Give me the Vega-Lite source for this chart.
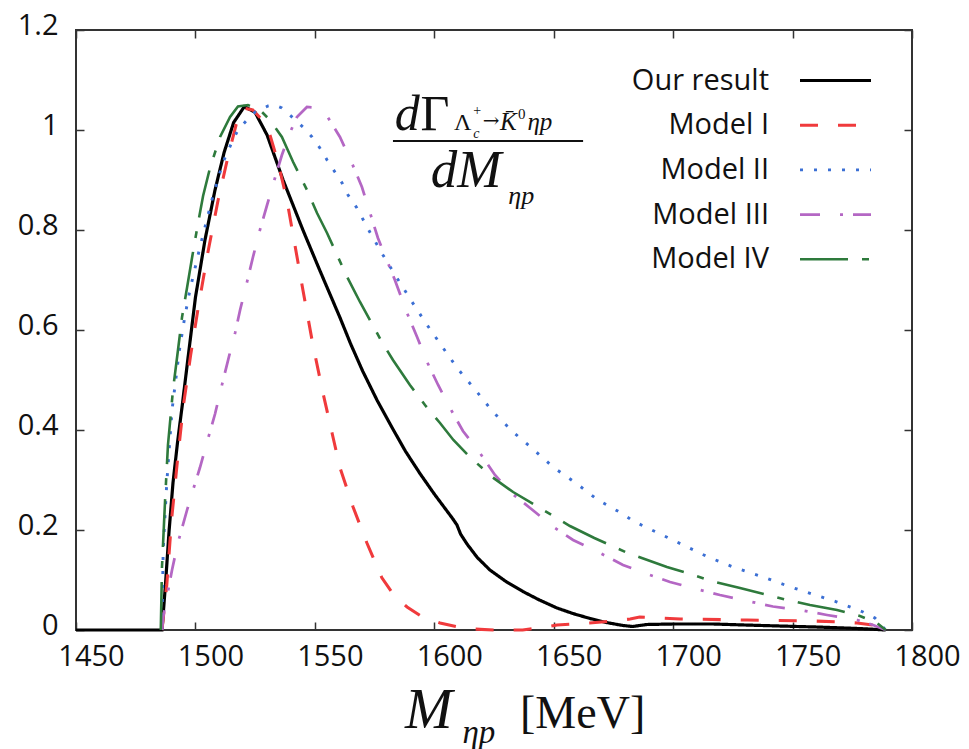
{
  "$schema": "https://vega.github.io/schema/vega-lite/v6.json",
  "width": 836,
  "height": 600,
  "autosize": {"type": "none"},
  "padding": {"left": 76, "top": 30, "right": 57, "bottom": 119},
  "background": "white",
  "config": {
    "view": {"stroke": "#333333", "strokeWidth": 2},
    "axis": {
      "grid": false,
      "domain": false,
      "title": null,
      "tickColor": "#333333",
      "tickWidth": 1.5,
      "tickSize": -8,
      "labelFont": "Open Sans",
      "labelFontSize": 29,
      "labelColor": "#111111"
    }
  },
  "datasets": {
    "curves": [
      {"series": "Our result", "m": 1450, "rate": 0},
      {"series": "Our result", "m": 1486, "rate": 0},
      {"series": "Our result", "m": 1487.5, "rate": 0.094},
      {"series": "Our result", "m": 1489, "rate": 0.2},
      {"series": "Our result", "m": 1490.6, "rate": 0.294},
      {"series": "Our result", "m": 1492.5, "rate": 0.375},
      {"series": "Our result", "m": 1494.5, "rate": 0.45},
      {"series": "Our result", "m": 1497.3, "rate": 0.56},
      {"series": "Our result", "m": 1500, "rate": 0.665},
      {"series": "Our result", "m": 1504, "rate": 0.78},
      {"series": "Our result", "m": 1508.2, "rate": 0.88},
      {"series": "Our result", "m": 1512, "rate": 0.955},
      {"series": "Our result", "m": 1516, "rate": 1.015},
      {"series": "Our result", "m": 1520.5, "rate": 1.047},
      {"series": "Our result", "m": 1525, "rate": 1.035},
      {"series": "Our result", "m": 1530, "rate": 0.99},
      {"series": "Our result", "m": 1536.7, "rate": 0.9},
      {"series": "Our result", "m": 1545, "rate": 0.8},
      {"series": "Our result", "m": 1552, "rate": 0.72},
      {"series": "Our result", "m": 1560.5, "rate": 0.625},
      {"series": "Our result", "m": 1565, "rate": 0.572},
      {"series": "Our result", "m": 1570, "rate": 0.518},
      {"series": "Our result", "m": 1576, "rate": 0.46},
      {"series": "Our result", "m": 1582.3, "rate": 0.405},
      {"series": "Our result", "m": 1588, "rate": 0.357},
      {"series": "Our result", "m": 1594, "rate": 0.313},
      {"series": "Our result", "m": 1600, "rate": 0.272},
      {"series": "Our result", "m": 1605, "rate": 0.24},
      {"series": "Our result", "m": 1607.8, "rate": 0.222},
      {"series": "Our result", "m": 1609.5, "rate": 0.21},
      {"series": "Our result", "m": 1611, "rate": 0.192},
      {"series": "Our result", "m": 1613.7, "rate": 0.172},
      {"series": "Our result", "m": 1618, "rate": 0.145},
      {"series": "Our result", "m": 1623.3, "rate": 0.12},
      {"series": "Our result", "m": 1630, "rate": 0.097},
      {"series": "Our result", "m": 1637.1, "rate": 0.077},
      {"series": "Our result", "m": 1644, "rate": 0.06},
      {"series": "Our result", "m": 1651.4, "rate": 0.044},
      {"series": "Our result", "m": 1658, "rate": 0.033},
      {"series": "Our result", "m": 1665.2, "rate": 0.023},
      {"series": "Our result", "m": 1672, "rate": 0.015},
      {"series": "Our result", "m": 1679, "rate": 0.009},
      {"series": "Our result", "m": 1683, "rate": 0.007},
      {"series": "Our result", "m": 1689, "rate": 0.011},
      {"series": "Our result", "m": 1700, "rate": 0.012},
      {"series": "Our result", "m": 1716.6, "rate": 0.012},
      {"series": "Our result", "m": 1730, "rate": 0.01},
      {"series": "Our result", "m": 1744.5, "rate": 0.008},
      {"series": "Our result", "m": 1760, "rate": 0.006},
      {"series": "Our result", "m": 1772, "rate": 0.004},
      {"series": "Our result", "m": 1782, "rate": 0.002},
      {"series": "Our result", "m": 1789, "rate": 0},

      {"series": "Model I", "m": 1486, "rate": 0},
      {"series": "Model I", "m": 1488, "rate": 0.09},
      {"series": "Model I", "m": 1490, "rate": 0.22},
      {"series": "Model I", "m": 1492.5, "rate": 0.34},
      {"series": "Model I", "m": 1495, "rate": 0.45},
      {"series": "Model I", "m": 1498, "rate": 0.55},
      {"series": "Model I", "m": 1501, "rate": 0.64},
      {"series": "Model I", "m": 1505, "rate": 0.75},
      {"series": "Model I", "m": 1509.5, "rate": 0.86},
      {"series": "Model I", "m": 1513.6, "rate": 0.946},
      {"series": "Model I", "m": 1517, "rate": 1.01},
      {"series": "Model I", "m": 1520, "rate": 1.044},
      {"series": "Model I", "m": 1524, "rate": 1.04},
      {"series": "Model I", "m": 1528, "rate": 1.02},
      {"series": "Model I", "m": 1531.2, "rate": 0.99},
      {"series": "Model I", "m": 1534.6, "rate": 0.935},
      {"series": "Model I", "m": 1538.3, "rate": 0.86},
      {"series": "Model I", "m": 1540.9, "rate": 0.79},
      {"series": "Model I", "m": 1545, "rate": 0.68},
      {"series": "Model I", "m": 1549.2, "rate": 0.57},
      {"series": "Model I", "m": 1553.4, "rate": 0.474},
      {"series": "Model I", "m": 1557.2, "rate": 0.394},
      {"series": "Model I", "m": 1560.5, "rate": 0.325},
      {"series": "Model I", "m": 1566, "rate": 0.246},
      {"series": "Model I", "m": 1571.8, "rate": 0.174},
      {"series": "Model I", "m": 1578, "rate": 0.105},
      {"series": "Model I", "m": 1583, "rate": 0.07},
      {"series": "Model I", "m": 1588.6, "rate": 0.046},
      {"series": "Model I", "m": 1595, "rate": 0.026},
      {"series": "Model I", "m": 1602.4, "rate": 0.014},
      {"series": "Model I", "m": 1610, "rate": 0.006},
      {"series": "Model I", "m": 1616, "rate": 0.002},
      {"series": "Model I", "m": 1625, "rate": 0},
      {"series": "Model I", "m": 1637, "rate": 0},
      {"series": "Model I", "m": 1645, "rate": 0.005},
      {"series": "Model I", "m": 1651.4, "rate": 0.01},
      {"series": "Model I", "m": 1665, "rate": 0.014},
      {"series": "Model I", "m": 1675, "rate": 0.018},
      {"series": "Model I", "m": 1682, "rate": 0.022},
      {"series": "Model I", "m": 1686, "rate": 0.026},
      {"series": "Model I", "m": 1695, "rate": 0.024},
      {"series": "Model I", "m": 1703, "rate": 0.022},
      {"series": "Model I", "m": 1731, "rate": 0.02},
      {"series": "Model I", "m": 1758.5, "rate": 0.018},
      {"series": "Model I", "m": 1770, "rate": 0.016},
      {"series": "Model I", "m": 1777, "rate": 0.014},
      {"series": "Model I", "m": 1783.7, "rate": 0.01},
      {"series": "Model I", "m": 1789, "rate": 0},

      {"series": "Model II", "m": 1486, "rate": 0},
      {"series": "Model II", "m": 1486.5, "rate": 0.16},
      {"series": "Model II", "m": 1488, "rate": 0.294},
      {"series": "Model II", "m": 1490.2, "rate": 0.44},
      {"series": "Model II", "m": 1493.3, "rate": 0.56},
      {"series": "Model II", "m": 1495.5, "rate": 0.625},
      {"series": "Model II", "m": 1497.7, "rate": 0.68},
      {"series": "Model II", "m": 1501.9, "rate": 0.766},
      {"series": "Model II", "m": 1504, "rate": 0.806},
      {"series": "Model II", "m": 1506.9, "rate": 0.86},
      {"series": "Model II", "m": 1511.5, "rate": 0.935},
      {"series": "Model II", "m": 1515.3, "rate": 0.976},
      {"series": "Model II", "m": 1517.8, "rate": 1.0},
      {"series": "Model II", "m": 1521.6, "rate": 1.02},
      {"series": "Model II", "m": 1525, "rate": 1.036},
      {"series": "Model II", "m": 1530.4, "rate": 1.048},
      {"series": "Model II", "m": 1533, "rate": 1.05},
      {"series": "Model II", "m": 1536.2, "rate": 1.044},
      {"series": "Model II", "m": 1540.9, "rate": 1.024},
      {"series": "Model II", "m": 1545, "rate": 1.006},
      {"series": "Model II", "m": 1548.8, "rate": 0.986},
      {"series": "Model II", "m": 1552.1, "rate": 0.964},
      {"series": "Model II", "m": 1555.1, "rate": 0.94},
      {"series": "Model II", "m": 1558.4, "rate": 0.916},
      {"series": "Model II", "m": 1561.4, "rate": 0.894},
      {"series": "Model II", "m": 1563.9, "rate": 0.87},
      {"series": "Model II", "m": 1567.6, "rate": 0.844},
      {"series": "Model II", "m": 1573, "rate": 0.796},
      {"series": "Model II", "m": 1578.5, "rate": 0.75},
      {"series": "Model II", "m": 1584.4, "rate": 0.704},
      {"series": "Model II", "m": 1590.7, "rate": 0.656},
      {"series": "Model II", "m": 1597, "rate": 0.61},
      {"series": "Model II", "m": 1603.7, "rate": 0.564},
      {"series": "Model II", "m": 1609.9, "rate": 0.522},
      {"series": "Model II", "m": 1617.9, "rate": 0.476},
      {"series": "Model II", "m": 1624.6, "rate": 0.436},
      {"series": "Model II", "m": 1633, "rate": 0.396},
      {"series": "Model II", "m": 1641.3, "rate": 0.362},
      {"series": "Model II", "m": 1649.7, "rate": 0.326},
      {"series": "Model II", "m": 1659.8, "rate": 0.292},
      {"series": "Model II", "m": 1668.5, "rate": 0.26},
      {"series": "Model II", "m": 1679, "rate": 0.232},
      {"series": "Model II", "m": 1683.2, "rate": 0.218},
      {"series": "Model II", "m": 1693.7, "rate": 0.194},
      {"series": "Model II", "m": 1704.2, "rate": 0.17},
      {"series": "Model II", "m": 1714.6, "rate": 0.146},
      {"series": "Model II", "m": 1725.1, "rate": 0.126},
      {"series": "Model II", "m": 1736.4, "rate": 0.108},
      {"series": "Model II", "m": 1746.8, "rate": 0.09},
      {"series": "Model II", "m": 1758.1, "rate": 0.072},
      {"series": "Model II", "m": 1768.6, "rate": 0.056},
      {"series": "Model II", "m": 1779.5, "rate": 0.036},
      {"series": "Model II", "m": 1784.5, "rate": 0.024},
      {"series": "Model II", "m": 1789, "rate": 0},

      {"series": "Model III", "m": 1486, "rate": 0},
      {"series": "Model III", "m": 1486.5, "rate": 0.026},
      {"series": "Model III", "m": 1490.2, "rate": 0.12},
      {"series": "Model III", "m": 1492.7, "rate": 0.175},
      {"series": "Model III", "m": 1496.5, "rate": 0.24},
      {"series": "Model III", "m": 1499, "rate": 0.28},
      {"series": "Model III", "m": 1501.9, "rate": 0.325},
      {"series": "Model III", "m": 1505.3, "rate": 0.383},
      {"series": "Model III", "m": 1508.2, "rate": 0.432},
      {"series": "Model III", "m": 1511.1, "rate": 0.49},
      {"series": "Model III", "m": 1514, "rate": 0.546},
      {"series": "Model III", "m": 1516.6, "rate": 0.594},
      {"series": "Model III", "m": 1518.7, "rate": 0.64},
      {"series": "Model III", "m": 1521.6, "rate": 0.696},
      {"series": "Model III", "m": 1524.1, "rate": 0.746},
      {"series": "Model III", "m": 1527, "rate": 0.8},
      {"series": "Model III", "m": 1530, "rate": 0.85},
      {"series": "Model III", "m": 1533.3, "rate": 0.904},
      {"series": "Model III", "m": 1536.2, "rate": 0.95},
      {"series": "Model III", "m": 1539.6, "rate": 0.995},
      {"series": "Model III", "m": 1542.5, "rate": 1.026},
      {"series": "Model III", "m": 1546.7, "rate": 1.046},
      {"series": "Model III", "m": 1550, "rate": 1.045},
      {"series": "Model III", "m": 1555.5, "rate": 1.025},
      {"series": "Model III", "m": 1560.5, "rate": 0.986},
      {"series": "Model III", "m": 1565.5, "rate": 0.934},
      {"series": "Model III", "m": 1569.7, "rate": 0.886},
      {"series": "Model III", "m": 1573, "rate": 0.836},
      {"series": "Model III", "m": 1576.4, "rate": 0.784},
      {"series": "Model III", "m": 1583.5, "rate": 0.7},
      {"series": "Model III", "m": 1588.6, "rate": 0.634},
      {"series": "Model III", "m": 1592.8, "rate": 0.586},
      {"series": "Model III", "m": 1597, "rate": 0.536},
      {"series": "Model III", "m": 1601.6, "rate": 0.49},
      {"series": "Model III", "m": 1606.6, "rate": 0.444},
      {"series": "Model III", "m": 1612, "rate": 0.398},
      {"series": "Model III", "m": 1619.1, "rate": 0.354},
      {"series": "Model III", "m": 1625.4, "rate": 0.31},
      {"series": "Model III", "m": 1632, "rate": 0.275},
      {"series": "Model III", "m": 1640.1, "rate": 0.244},
      {"series": "Model III", "m": 1650.5, "rate": 0.204},
      {"series": "Model III", "m": 1658.1, "rate": 0.18},
      {"series": "Model III", "m": 1669.4, "rate": 0.154},
      {"series": "Model III", "m": 1679, "rate": 0.13},
      {"series": "Model III", "m": 1690.3, "rate": 0.11},
      {"series": "Model III", "m": 1698.7, "rate": 0.096},
      {"series": "Model III", "m": 1711.2, "rate": 0.08},
      {"series": "Model III", "m": 1719.6, "rate": 0.07},
      {"series": "Model III", "m": 1733, "rate": 0.056},
      {"series": "Model III", "m": 1741.8, "rate": 0.047},
      {"series": "Model III", "m": 1754.4, "rate": 0.039},
      {"series": "Model III", "m": 1764.4, "rate": 0.03},
      {"series": "Model III", "m": 1777, "rate": 0.02},
      {"series": "Model III", "m": 1783.7, "rate": 0.01},
      {"series": "Model III", "m": 1789, "rate": 0},

      {"series": "Model IV", "m": 1485.5, "rate": 0},
      {"series": "Model IV", "m": 1486, "rate": 0.126},
      {"series": "Model IV", "m": 1487.3, "rate": 0.26},
      {"series": "Model IV", "m": 1488.5, "rate": 0.37},
      {"series": "Model IV", "m": 1490.6, "rate": 0.48},
      {"series": "Model IV", "m": 1492.7, "rate": 0.56},
      {"series": "Model IV", "m": 1494.4, "rate": 0.626},
      {"series": "Model IV", "m": 1496.5, "rate": 0.685},
      {"series": "Model IV", "m": 1498.6, "rate": 0.745},
      {"series": "Model IV", "m": 1501.1, "rate": 0.814},
      {"series": "Model IV", "m": 1503.2, "rate": 0.868},
      {"series": "Model IV", "m": 1506.1, "rate": 0.924},
      {"series": "Model IV", "m": 1510.3, "rate": 0.986},
      {"series": "Model IV", "m": 1514.5, "rate": 1.026},
      {"series": "Model IV", "m": 1517.8, "rate": 1.047},
      {"series": "Model IV", "m": 1522, "rate": 1.05},
      {"series": "Model IV", "m": 1527, "rate": 1.04},
      {"series": "Model IV", "m": 1531.2, "rate": 1.02},
      {"series": "Model IV", "m": 1536.2, "rate": 0.986},
      {"series": "Model IV", "m": 1540.9, "rate": 0.936},
      {"series": "Model IV", "m": 1546.7, "rate": 0.88},
      {"series": "Model IV", "m": 1550.9, "rate": 0.834},
      {"series": "Model IV", "m": 1555.1, "rate": 0.794},
      {"series": "Model IV", "m": 1559.3, "rate": 0.75},
      {"series": "Model IV", "m": 1563.5, "rate": 0.706},
      {"series": "Model IV", "m": 1568.9, "rate": 0.656},
      {"series": "Model IV", "m": 1578.1, "rate": 0.576},
      {"series": "Model IV", "m": 1582.7, "rate": 0.54},
      {"series": "Model IV", "m": 1589.8, "rate": 0.49},
      {"series": "Model IV", "m": 1596.1, "rate": 0.45},
      {"series": "Model IV", "m": 1602.4, "rate": 0.414},
      {"series": "Model IV", "m": 1608, "rate": 0.38},
      {"series": "Model IV", "m": 1614.9, "rate": 0.346},
      {"series": "Model IV", "m": 1624.2, "rate": 0.306},
      {"series": "Model IV", "m": 1633, "rate": 0.276},
      {"series": "Model IV", "m": 1644.3, "rate": 0.244},
      {"series": "Model IV", "m": 1656.8, "rate": 0.208},
      {"series": "Model IV", "m": 1667, "rate": 0.184},
      {"series": "Model IV", "m": 1680, "rate": 0.156},
      {"series": "Model IV", "m": 1697.4, "rate": 0.126},
      {"series": "Model IV", "m": 1705.8, "rate": 0.114},
      {"series": "Model IV", "m": 1716.6, "rate": 0.097},
      {"series": "Model IV", "m": 1728, "rate": 0.084},
      {"series": "Model IV", "m": 1747.7, "rate": 0.06},
      {"series": "Model IV", "m": 1757.3, "rate": 0.05},
      {"series": "Model IV", "m": 1768.6, "rate": 0.04},
      {"series": "Model IV", "m": 1778.2, "rate": 0.028},
      {"series": "Model IV", "m": 1785.3, "rate": 0.014},
      {"series": "Model IV", "m": 1789, "rate": 0}
    ]
  },
  "layer": [
    {
      "data": {"name": "curves"},
      "mark": {"type": "line", "strokeCap": "butt"},
      "encoding": {
        "x": {
          "field": "m", "type": "quantitative",
          "scale": {"domain": [1450, 1800], "nice": false, "zero": false},
          "axis": {"orient": "bottom", "values": [1450, 1500, 1550, 1600, 1650, 1700, 1750, 1800], "format": "d", "labelOffset": 15, "labelPadding": 20, "labelFlush": false}
        },
        "y": {
          "field": "rate", "type": "quantitative",
          "scale": {"domain": [0, 1.2], "nice": false, "zero": false},
          "axis": {"orient": "left", "values": [0, 0.2, 0.4, 0.6, 0.8, 1, 1.2], "format": "~g", "labelOffset": -5, "labelPadding": 26}
        },
        "color": {
          "field": "series", "type": "nominal",
          "scale": {"domain": ["Our result", "Model I", "Model II", "Model III", "Model IV"], "range": ["#000000", "#f03a3c", "#3b6fd4", "#b467c4", "#2e7a3c"]},
          "legend": {
            "orient": "none", "legendX": 745, "legendY": 36, "title": null, "padding": 0,
            "symbolType": "M-3,0H3", "symbolSize": 560, "symbolStrokeWidth": 2.6,
            "labelFont": "Open Sans", "labelFontSize": 29, "labelColor": "#111111",
            "labelAlign": "right", "labelOffset": -81, "rowPadding": 14.7
          }
        },
        "strokeDash": {
          "field": "series", "type": "nominal",
          "scale": {"domain": ["Our result", "Model I", "Model II", "Model III", "Model IV"], "range": [[1, 0], [18, 20], [3, 11], [20, 20, 3, 10], [48, 14, 7, 14]]},
          "legend": {
            "orient": "none", "legendX": 745, "legendY": 36, "title": null, "padding": 0,
            "symbolType": "M-3,0H3", "symbolSize": 560, "symbolStrokeWidth": 2.6,
            "labelFont": "Open Sans", "labelFontSize": 29, "labelColor": "#111111",
            "labelAlign": "right", "labelOffset": -81, "rowPadding": 14.7
          }
        },
        "strokeWidth": {
          "field": "series", "type": "nominal",
          "scale": {"domain": ["Our result", "Model I", "Model II", "Model III", "Model IV"], "range": [3.2, 2.6, 2.6, 2.6, 2.6]},
          "legend": null
        }
      }
    },
    {
      "data": {"values": [{}]},
      "mark": {"type": "text", "text": "d", "font": "Liberation Serif", "fontStyle": "italic", "fontSize": 50, "align": "left", "baseline": "alphabetic", "color": "#111111"},
      "encoding": {"x": {"datum": 1583.5, "type": "quantitative", "axis": null}, "y": {"datum": 1.0, "type": "quantitative", "axis": null}}
    },
    {
      "data": {"values": [{}]},
      "mark": {"type": "text", "text": "Γ", "font": "Liberation Serif", "fontSize": 50, "align": "left", "baseline": "alphabetic", "color": "#111111"},
      "encoding": {"x": {"datum": 1594.2, "type": "quantitative", "axis": null}, "y": {"datum": 1.0, "type": "quantitative", "axis": null}}
    },
    {
      "data": {"values": [{}]},
      "mark": {"type": "text", "text": "Λ", "font": "Liberation Serif", "fontSize": 24, "align": "left", "baseline": "alphabetic", "color": "#111111"},
      "encoding": {"x": {"datum": 1608.3, "type": "quantitative", "axis": null}, "y": {"datum": 1.0, "type": "quantitative", "axis": null}}
    },
    {
      "data": {"values": [{}]},
      "mark": {"type": "text", "text": "+", "font": "Liberation Serif", "fontSize": 14, "align": "left", "baseline": "alphabetic", "color": "#111111"},
      "encoding": {"x": {"datum": 1616.3, "type": "quantitative", "axis": null}, "y": {"datum": 1.03, "type": "quantitative", "axis": null}}
    },
    {
      "data": {"values": [{}]},
      "mark": {"type": "text", "text": "c", "font": "Liberation Serif", "fontStyle": "italic", "fontSize": 14, "align": "left", "baseline": "alphabetic", "color": "#111111"},
      "encoding": {"x": {"datum": 1616.3, "type": "quantitative", "axis": null}, "y": {"datum": 0.985, "type": "quantitative", "axis": null}}
    },
    {
      "data": {"values": [{}]},
      "mark": {"type": "text", "text": "→", "font": "DejaVu Serif", "fontSize": 20, "align": "left", "baseline": "alphabetic", "color": "#111111"},
      "encoding": {"x": {"datum": 1620.3, "type": "quantitative", "axis": null}, "y": {"datum": 1.007, "type": "quantitative", "axis": null}}
    },
    {
      "data": {"values": [{}]},
      "mark": {"type": "text", "text": "K̄", "font": "Liberation Serif", "fontStyle": "italic", "fontSize": 25, "align": "left", "baseline": "alphabetic", "color": "#111111"},
      "encoding": {"x": {"datum": 1627.5, "type": "quantitative", "axis": null}, "y": {"datum": 1.0, "type": "quantitative", "axis": null}}
    },
    {
      "data": {"values": [{}]},
      "mark": {"type": "text", "text": "0", "font": "Liberation Serif", "fontSize": 15, "align": "left", "baseline": "alphabetic", "color": "#111111"},
      "encoding": {"x": {"datum": 1635, "type": "quantitative", "axis": null}, "y": {"datum": 1.022, "type": "quantitative", "axis": null}}
    },
    {
      "data": {"values": [{}]},
      "mark": {"type": "text", "text": "ηp", "font": "Liberation Serif", "fontStyle": "italic", "fontSize": 25, "align": "left", "baseline": "alphabetic", "color": "#111111"},
      "encoding": {"x": {"datum": 1639, "type": "quantitative", "axis": null}, "y": {"datum": 1.0, "type": "quantitative", "axis": null}}
    },
    {
      "data": {"values": [{}]},
      "mark": {"type": "rule", "color": "#111111", "strokeWidth": 2},
      "encoding": {"x": {"datum": 1582.7, "type": "quantitative", "axis": null}, "x2": {"datum": 1662.3}, "y": {"datum": 0.978, "type": "quantitative", "axis": null}}
    },
    {
      "data": {"values": [{}]},
      "mark": {"type": "text", "text": "dM", "font": "Liberation Serif", "fontStyle": "italic", "fontSize": 53, "align": "left", "baseline": "alphabetic", "color": "#111111"},
      "encoding": {"x": {"datum": 1598.5, "type": "quantitative", "axis": null}, "y": {"datum": 0.886, "type": "quantitative", "axis": null}}
    },
    {
      "data": {"values": [{}]},
      "mark": {"type": "text", "text": "ηp", "font": "Liberation Serif", "fontStyle": "italic", "fontSize": 26, "align": "left", "baseline": "alphabetic", "color": "#111111"},
      "encoding": {"x": {"datum": 1631, "type": "quantitative", "axis": null}, "y": {"datum": 0.852, "type": "quantitative", "axis": null}}
    },
    {
      "data": {"values": [{}]},
      "mark": {"type": "text", "text": "M", "font": "Liberation Serif", "fontStyle": "italic", "fontSize": 57, "align": "left", "baseline": "alphabetic", "color": "#111111"},
      "encoding": {"x": {"datum": 1587.7, "type": "quantitative", "axis": null}, "y": {"datum": -0.196, "type": "quantitative", "axis": null}}
    },
    {
      "data": {"values": [{}]},
      "mark": {"type": "text", "text": "ηp", "font": "Liberation Serif", "fontStyle": "italic", "fontSize": 33, "align": "left", "baseline": "alphabetic", "color": "#111111"},
      "encoding": {"x": {"datum": 1611.8, "type": "quantitative", "axis": null}, "y": {"datum": -0.226, "type": "quantitative", "axis": null}}
    },
    {
      "data": {"values": [{}]},
      "mark": {"type": "text", "text": "[MeV]", "font": "Liberation Serif", "fontSize": 46, "align": "left", "baseline": "alphabetic", "color": "#111111"},
      "encoding": {"x": {"datum": 1635.9, "type": "quantitative", "axis": null}, "y": {"datum": -0.196, "type": "quantitative", "axis": null}}
    },
    {
      "data": {"values": [{}]},
      "mark": {"type": "point", "opacity": 0},
      "encoding": {
        "x": {"datum": 1450, "type": "quantitative", "axis": {"orient": "top", "labels": false, "values": [1450, 1500, 1550, 1600, 1650, 1700, 1750, 1800]}},
        "y": {"datum": 0, "type": "quantitative", "axis": {"orient": "right", "labels": false, "values": [0, 0.2, 0.4, 0.6, 0.8, 1, 1.2]}}
      }
    }
  ],
  "resolve": {"axis": {"x": "independent", "y": "independent"}}
}
